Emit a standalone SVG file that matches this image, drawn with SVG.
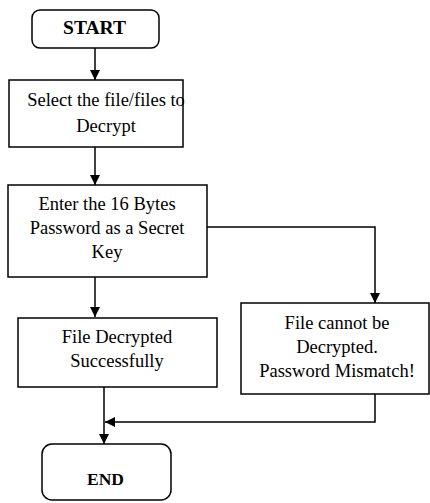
<svg xmlns="http://www.w3.org/2000/svg" width="430" height="503" viewBox="0 0 430 503">
<defs>
<style>
.box{fill:#fff;stroke:#000;stroke-width:1.5}
.t{font-family:'Liberation Serif','Times New Roman','DejaVu Serif',serif;font-size:18.5px;fill:#000;text-anchor:middle}
.b{font-weight:bold}
.c{fill:none;stroke:#000;stroke-width:1.5}
</style>
<marker id="ah" viewBox="0 0 10 10" refX="10" refY="5" markerWidth="10" markerHeight="10" markerUnits="userSpaceOnUse" orient="auto">
<path d="M0,0 L10,5 L0,10 Z" fill="#000"/>
</marker>
</defs>
<rect width="430" height="503" fill="#fff"/>
<g id="connectors">
<line class="c" x1="95" y1="48" x2="95" y2="80" marker-end="url(#ah)"/>
<line class="c" x1="95" y1="147" x2="95" y2="185" marker-end="url(#ah)"/>
<line class="c" x1="95" y1="277" x2="95" y2="317" marker-end="url(#ah)"/>
<polyline class="c" points="207,227 375,227 375,303" marker-end="url(#ah)"/>
<polyline class="c" points="375,394 375,422 105,422" marker-end="url(#ah)"/>
<line class="c" x1="104" y1="387" x2="104" y2="444" marker-end="url(#ah)"/>
</g>
<g id="start">
<rect class="box" x="32" y="10" width="127" height="38" rx="8"/>
<text class="t b" x="94.5" y="34" style="font-size:19.5px">START</text>
</g>
<g id="select">
<rect class="box" x="9" y="80" width="174" height="67"/>
<text class="t" x="106" y="106">Select the file/files to</text>
<text class="t" x="106" y="132">Decrypt</text>
</g>
<g id="password">
<rect class="box" x="8" y="185" width="199" height="92"/>
<text class="t" x="107" y="210">Enter the 16 Bytes</text>
<text class="t" x="107" y="234">Password as a Secret</text>
<text class="t" x="107" y="258">Key</text>
</g>
<g id="success">
<rect class="box" x="18" y="318" width="199" height="69"/>
<text class="t" x="117" y="343">File Decrypted</text>
<text class="t" x="117" y="367">Successfully</text>
</g>
<g id="mismatch">
<rect class="box" x="241" y="303" width="188" height="91"/>
<text class="t" x="337" y="329">File cannot be</text>
<text class="t" x="337" y="353">Decrypted.</text>
<text class="t" x="337" y="377">Password Mismatch!</text>
</g>
<g id="end">
<rect class="box" x="42" y="444" width="129" height="56" rx="10"/>
<text class="t b" x="105.5" y="485" style="font-size:17.5px">END</text>
</g>
</svg>
